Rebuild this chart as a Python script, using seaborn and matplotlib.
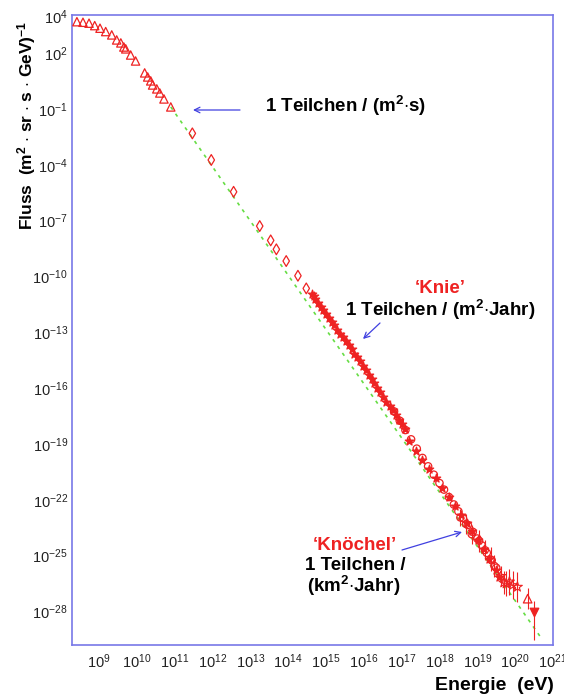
import numpy as np
import pandas as pd
import matplotlib
matplotlib.use("Agg")
import matplotlib.pyplot as plt
import matplotlib.ticker as mticker
import seaborn as sns

# ---------------- data (log10 values) ----------------
tri_logE = [8.42, 8.58, 8.74, 8.89, 9.03, 9.18, 9.34, 9.47, 9.58, 9.66, 9.71,
            9.84, 9.97, 10.21, 10.29, 10.37, 10.42, 10.53, 10.61, 10.72, 10.90]
tri_logF = [3.69, 3.66, 3.61, 3.48, 3.34, 3.16, 2.98, 2.71, 2.55, 2.33, 2.23,
            1.90, 1.58, 0.94, 0.72, 0.51, 0.29, 0.08, -0.14, -0.46, -0.89]

dia_logE = [11.47, 11.97, 12.56, 13.25, 13.54, 13.69, 13.95, 14.26, 14.48]
dia_logF = [-2.31, -3.74, -5.45, -7.29, -8.06, -8.54, -9.17, -9.96, -10.64]

knee_logE = [14.62, 14.68, 14.72, 14.80, 14.86, 14.93, 15.00, 15.08, 15.15, 15.22,
             15.30, 15.38, 15.45, 15.52, 15.60, 15.68, 15.75, 15.83, 15.90, 15.98,
             16.05, 16.13, 16.21, 16.28, 16.36, 16.44, 16.52, 16.60, 16.68, 16.76,
             16.84, 16.92, 17.00, 17.08]
knee_logF = [-10.92, -11.05, -11.20, -11.45, -11.62, -11.80, -12.02, -12.22, -12.43, -12.63,
             -12.85, -13.07, -13.27, -13.47, -13.70, -13.92, -14.14, -14.35, -14.56, -14.80,
             -15.03, -15.27, -15.52, -15.74, -15.98, -16.23, -16.47, -16.72, -16.96, -17.20,
             -17.45, -17.70, -17.95, -18.20]

circ_logE = [16.80, 16.95, 17.10, 17.25, 17.40, 17.55, 17.70, 17.85, 18.00, 18.12,
             18.25, 18.38, 18.50, 18.62, 18.75, 18.88, 19.00, 19.12, 19.25, 19.38, 19.50]
circ_logF = [-17.25, -17.75, -18.25, -18.75, -19.25, -19.75, -20.20, -20.65, -21.10, -21.45,
             -21.85, -22.25, -22.62, -22.98, -23.35, -23.72, -24.08, -24.45, -24.85, -25.25, -25.65]

fill_logE = [17.20, 17.38, 17.55, 17.72, 17.90, 18.08, 18.25, 18.42, 18.57, 18.72,
             18.87, 19.02, 19.17, 19.32, 19.49, 19.58]
fill_logF = [-18.85, -19.35, -19.85, -20.35, -20.85, -21.35, -21.85, -22.35, -22.83, -23.25,
             -23.70, -24.15, -24.62, -25.16, -25.78, -26.15]

ankle_logE = [18.55, 18.70, 18.85, 19.05, 19.20, 19.35, 19.45]
ankle_logF = [-22.95, -23.30, -23.85, -24.20, -24.70, -25.20, -25.55]
ankle_err = [0.45, 0.55, 0.50, 0.60, 0.55, 0.65, 0.60]

tail_logE = [19.62, 19.70, 19.76, 19.85, 19.93, 20.06]
tail_logF = [-26.10, -26.45, -26.50, -26.40, -26.59, -26.68]
tail_err = [0.55, 0.60, 0.65, 0.70, 0.75, 0.80]

top_logE = [20.33]
top_logF = [-27.31]
top_err = [0.55]

low_logE = [20.50]
low_logF = [-28.03]
low_err_lo = [1.5]
low_err_hi = [0.6]

fit_logE = [10.90, 20.68]
fit_logF = [-0.89, -29.40]

x_major = [9, 10, 11, 12, 13, 14, 15, 16, 17, 18, 19, 20, 21]
y_major = [4, 2, -1, -4, -7, -10, -13, -16, -19, -22, -25, -28]

# ---------------- style ----------------
sns.set_theme(style="white")
plt.rcParams['font.family'] = ['Liberation Sans', 'DejaVu Sans']
plt.rcParams['mathtext.fontset'] = 'custom'
plt.rcParams['mathtext.rm'] = 'Liberation Sans'
plt.rcParams['mathtext.it'] = 'Liberation Sans'
plt.rcParams['mathtext.bf'] = 'Liberation Sans:bold'

RED = '#ee2222'
GREEN = '#66dd44'
BLUE = '#4040e0'
SPINE = '#7878e8'

W, H = 564, 698
fig = plt.figure(figsize=(W / 100, H / 100), dpi=100)
ax = fig.add_axes([72 / W, 1 - 645 / H, (553 - 72) / W, (645 - 15) / H])

def pw(v):
    return [10.0 ** a for a in v]

df_fit = pd.DataFrame({'E': pw(fit_logE), 'F': pw(fit_logF)})
sns.lineplot(data=df_fit, x='E', y='F', ax=ax, color=GREEN, lw=1.2,
             linestyle=(0, (2, 3)), zorder=1)

def scat(le, lf, marker, s, filled, z=3, lw=0.9):
    d = pd.DataFrame({'E': pw(le), 'F': pw(lf)})
    if filled:
        sns.scatterplot(data=d, x='E', y='F', ax=ax, marker=marker, s=s,
                        color=RED, edgecolor=RED, linewidth=lw, zorder=z)
    else:
        sns.scatterplot(data=d, x='E', y='F', ax=ax, marker=marker, s=s,
                        facecolor='none', edgecolor=RED, linewidth=lw, zorder=z)

def ebars(le, lf, lo, hi):
    E = np.array(pw(le))
    F = np.array(pw(lf))
    lo_v = F - np.array(pw(np.array(lf) - np.array(lo)))
    hi_v = np.array(pw(np.array(lf) + np.array(hi))) - F
    ax.errorbar(E, F, yerr=[lo_v, hi_v], fmt='none', ecolor=RED, elinewidth=0.8, zorder=2)

ebars(ankle_logE, ankle_logF, ankle_err, ankle_err)
ebars(tail_logE, tail_logF, tail_err, tail_err)
ebars(top_logE, top_logF, top_err, top_err)
ebars(low_logE, low_logF, low_err_lo, low_err_hi)

scat(tri_logE, tri_logF, '^', 36, False)
scat(dia_logE, dia_logF, 'd', 30, False)
scat(circ_logE, circ_logF, 'o', 28, False)
scat(knee_logE, knee_logF, '*', 40, True)
scat(fill_logE, fill_logF, '*', 40, True)
scat(ankle_logE, ankle_logF, 'o', 26, False)
scat(tail_logE, tail_logF, '*', 55, False, lw=0.8)
scat(top_logE, top_logF, '^', 38, False)
scat(low_logE, low_logF, 'v', 38, True)

ax.set_xscale('log')
ax.set_yscale('log')
ax.set_xlim(10 ** 8.29, 10 ** 21.0)
ax.set_ylim(10 ** -29.8, 10 ** 4.05)
ax.set_xlabel('')
ax.set_ylabel('')

ax.xaxis.set_major_locator(mticker.FixedLocator(pw(x_major)))
ax.xaxis.set_minor_locator(mticker.LogLocator(base=10, subs=np.arange(2, 10), numticks=100))
ax.xaxis.set_major_formatter(mticker.FixedFormatter([r'$10^{%d}$' % v for v in x_major]))
ax.xaxis.set_minor_formatter(mticker.NullFormatter())

ax.yaxis.set_major_locator(mticker.FixedLocator(pw(y_major)))
ax.yaxis.set_minor_locator(mticker.FixedLocator(pw(list(range(-29, 5)))))
ax.yaxis.set_major_formatter(mticker.FixedFormatter([r'$10^{%d}$' % v for v in y_major]))
ax.yaxis.set_minor_formatter(mticker.NullFormatter())

ax.tick_params(axis='both', which='both', direction='in', colors='#555577',
               labelcolor='#222222', labelsize=10.5)
ax.tick_params(axis='x', which='major', length=6, width=0.8, pad=5)
ax.tick_params(axis='x', which='minor', length=3, width=0.7)
ax.tick_params(axis='y', which='major', length=7, width=0.8, pad=3)
ax.tick_params(axis='y', which='minor', length=4, width=0.7)

for sp in ax.spines.values():
    sp.set_color(SPINE)
    sp.set_linewidth(1.2)
    sp.set_visible(True)
ax.grid(False)

def fp(x, y):
    return (x / W, 1 - y / H)

fig.text(*fp(554, 685), 'Energie  (eV)', ha='right', va='center',
         fontsize=14, fontweight='bold', color='black')
fig.text(*fp(27, 125), r'Fluss  (m$^{\mathbf{2}}$ $\cdot$ sr $\cdot$ s $\cdot$ GeV)$^{\mathbf{-1}}$',
         ha='center', va='center', rotation=90, fontsize=12.5, fontweight='bold', color='black')

tkw = dict(ha='center', va='center', fontsize=13.5, fontweight='bold')
sq = r'$^{\mathbf{2}}$'
fig.text(*fp(346, 106), '1 Teilchen / (m' + sq + r'$\cdot$s)', color='black', **tkw)
fig.text(*fp(440, 289), '\u2018Knie\u2019', color=RED, **tkw)
fig.text(*fp(440, 310), '1 Teilchen / (m' + sq + r'$\cdot$Jahr)', color='black', **tkw)
fig.text(*fp(355, 546), '\u2018Knöchel\u2019', color=RED, **tkw)
fig.text(*fp(355, 565), '1 Teilchen /', color='black', **tkw)
fig.text(*fp(354, 586), '(km' + sq + r'$\cdot$Jahr)', color='black', **tkw)

akw = dict(arrowstyle='->', color=BLUE, lw=0.9, shrinkA=0, shrinkB=0, mutation_scale=10)
ax.annotate('', xy=fp(193, 110), xytext=fp(240, 110), xycoords='figure fraction',
            textcoords='figure fraction', arrowprops=akw)
ax.annotate('', xy=fp(363, 339), xytext=fp(380, 323), xycoords='figure fraction',
            textcoords='figure fraction', arrowprops=akw)
ax.annotate('', xy=fp(462, 532), xytext=fp(402, 550), xycoords='figure fraction',
            textcoords='figure fraction', arrowprops=akw)

fig.savefig('out.png', dpi=100)
